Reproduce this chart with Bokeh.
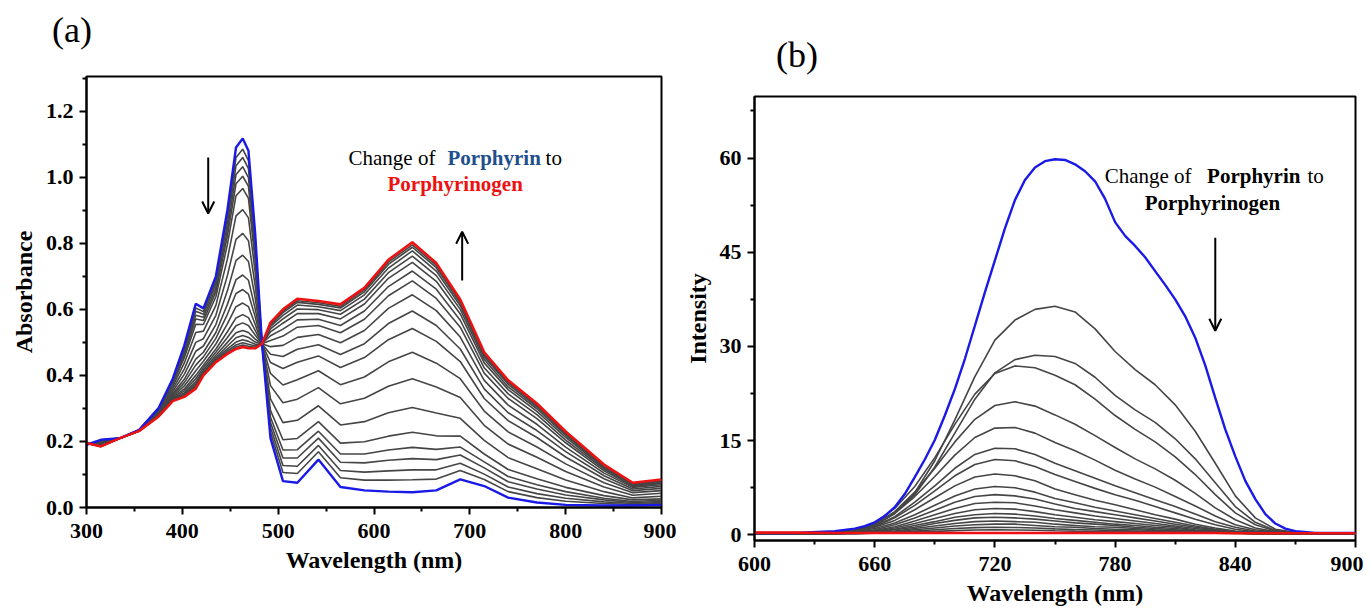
from bokeh.plotting import figure
from bokeh.models import Range1d, FixedTicker, PrintfTickFormatter, Label, Arrow, OpenHead, Div
from bokeh.layouts import row, column
from bokeh.embed import file_html
from bokeh.resources import INLINE

# ---------------- Panel (a): absorbance spectra ----------------
WL_A = [300, 315, 335, 355, 375, 390, 402, 414, 422, 435, 447, 456, 463, 469, 476, 483, 492,
        505, 520, 542, 565, 590, 615, 640, 665, 690, 715, 740, 770, 800, 840, 870, 900]
ABS_PORPHYRIN = [0.190, 0.205, 0.210, 0.235, 0.300, 0.390, 0.490, 0.617, 0.603, 0.700, 0.900, 1.090, 1.117, 1.080, 0.830, 0.500, 0.210,
                 0.080, 0.075, 0.145, 0.062, 0.052, 0.048, 0.046, 0.052, 0.085, 0.065, 0.030, 0.015, 0.008, 0.006, 0.006, 0.008]
ABS_PORPHYRINOGEN = [0.195, 0.185, 0.210, 0.232, 0.275, 0.322, 0.335, 0.360, 0.400, 0.440, 0.465, 0.480, 0.486, 0.482, 0.482, 0.495, 0.560,
                     0.600, 0.632, 0.625, 0.615, 0.665, 0.750, 0.803, 0.740, 0.630, 0.470, 0.385, 0.315, 0.230, 0.130, 0.075, 0.085]
ABS_T01 = [.190, .204, .210, .235, .299, .387, .482, .604, .593, .687, .878, 1.060, 1.085, 1.050, .813, .500, .228, .106, .103, .169, .090, .083, .083, .084, .086, .112, .085, .048, .030, .019, .012, .009, .012]
ABS_T02 = [.190, .203, .210, .235, .298, .384, .476, .594, .585, .677, .861, 1.035, 1.060, 1.026, .799, .500, .242, .127, .125, .188, .112, .107, .111, .114, .114, .134, .101, .062, .042, .028, .017, .012, .015]
ABS_T03 = [.191, .202, .210, .235, .297, .381, .469, .582, .576, .665, .841, 1.008, 1.032, .999, .783, .499, .257, .150, .150, .210, .137, .135, .143, .148, .145, .159, .120, .078, .056, .038, .023, .015, .018]
ABS_T04 = [.191, .201, .210, .234, .296, .378, .462, .571, .566, .653, .822, .980, 1.003, .972, .767, .499, .273, .174, .175, .231, .162, .162, .174, .182, .176, .183, .138, .094, .069, .048, .028, .018, .022]
ABS_T05 = [.191, .200, .210, .234, .294, .374, .453, .555, .554, .638, .796, .944, .966, .936, .746, .499, .294, .205, .209, .260, .195, .199, .216, .228, .217, .216, .162, .115, .087, .061, .036, .023, .026]
ABS_T06 = [.192, .198, .210, .234, .292, .367, .437, .530, .534, .612, .752, .883, .902, .877, .712, .498, .329, .257, .264, .308, .250, .260, .287, .303, .286, .270, .203, .151, .117, .083, .048, .029, .034]
ABS_T07 = [.192, .196, .210, .234, .289, .359, .419, .500, .511, .582, .702, .812, .830, .808, .672, .498, .369, .317, .328, .363, .314, .331, .367, .390, .365, .333, .249, .192, .152, .109, .062, .037, .043]
ABS_T08 = [.193, .194, .210, .233, .286, .352, .403, .473, .489, .554, .656, .748, .764, .745, .635, .497, .406, .371, .387, .414, .372, .395, .441, .470, .437, .390, .292, .229, .183, .132, .075, .045, .051]
ABS_T09 = [.193, .192, .210, .233, .284, .345, .388, .449, .470, .530, .615, .690, .704, .688, .602, .497, .439, .421, .440, .459, .424, .454, .508, .542, .503, .442, .330, .263, .212, .153, .087, .051, .058]
ABS_T10 = [.194, .191, .210, .233, .282, .341, .378, .431, .456, .512, .585, .648, .660, .646, .578, .496, .464, .457, .479, .493, .463, .496, .557, .595, .551, .480, .359, .287, .233, .169, .096, .056, .064]
ABS_T11 = [.194, .189, .210, .233, .280, .336, .368, .414, .443, .495, .556, .608, .619, .608, .555, .496, .487, .491, .515, .524, .499, .536, .603, .644, .596, .516, .385, .310, .252, .183, .104, .061, .069]
ABS_T12 = [.194, .188, .210, .232, .279, .333, .359, .400, .431, .480, .532, .574, .584, .575, .536, .496, .506, .519, .546, .551, .529, .570, .641, .686, .633, .546, .407, .330, .269, .196, .111, .064, .073]
ABS_T13 = [.194, .187, .210, .232, .278, .330, .353, .390, .423, .470, .515, .550, .559, .551, .522, .496, .520, .540, .568, .570, .551, .595, .669, .716, .661, .567, .423, .344, .281, .204, .116, .067, .076]
ABS_T14 = [.195, .187, .210, .232, .277, .327, .347, .381, .416, .461, .500, .529, .536, .530, .510, .495, .532, .558, .587, .587, .571, .616, .694, .742, .685, .586, .438, .357, .291, .212, .120, .069, .079]
ABS_T15 = [.195, .186, .210, .232, .276, .326, .344, .374, .411, .454, .489, .514, .521, .515, .501, .495, .541, .571, .601, .599, .585, .631, .711, .761, .702, .600, .448, .365, .299, .218, .123, .071, .081]
ABS_T16 = [.195, .186, .210, .232, .276, .324, .340, .369, .407, .449, .480, .501, .508, .503, .494, .495, .548, .582, .613, .608, .596, .644, .725, .777, .716, .611, .456, .373, .305, .222, .126, .073, .082]
ABS_T17 = [.195, .185, .210, .232, .276, .323, .338, .365, .404, .445, .474, .492, .499, .494, .489, .495, .553, .590, .621, .615, .604, .653, .736, .788, .726, .619, .462, .378, .309, .226, .128, .074, .083]
ABS_T18 = [.195, .185, .210, .232, .275, .323, .337, .362, .402, .443, .469, .486, .492, .488, .485, .495, .557, .595, .626, .620, .609, .659, .743, .795, .733, .625, .466, .382, .312, .228, .129, .074, .084]

XTICKS_A = [300, 400, 500, 600, 700, 800, 900]
XMINOR_A = [350, 450, 550, 650, 750, 850]
YTICKS_A = [0.0, 0.2, 0.4, 0.6, 0.8, 1.0, 1.2]
YMINOR_A = [0.1, 0.3, 0.5, 0.7, 0.9, 1.1, 1.3]

# ---------------- Panel (b): emission spectra ----------------
WL_B = [600, 620, 640, 650, 660, 670, 680, 690, 700, 710, 720, 730, 740, 750,
        760, 770, 780, 790, 800, 810, 820, 830, 840, 850, 860, 870, 880, 900]
WL_B_PORPHYRIN = [600, 620, 640, 650, 655, 660, 665, 670, 675, 680, 685, 690, 695, 700, 705, 710, 715,
                  720, 725, 730, 735, 740, 745, 750, 755, 760, 765, 770, 775, 780, 785, 790, 795, 800,
                  805, 810, 815, 820, 825, 830, 835, 840, 845, 850, 855, 860, 865, 870, 880, 900]
INT_PORPHYRIN = [0.3, 0.3, 0.6, 1.0, 1.4, 2.0, 3.0, 4.4, 6.5, 9.2, 12.0, 15.1, 19.0, 23.2, 28.0, 33.3, 38.6,
                 43.7, 48.8, 53.3, 56.5, 58.5, 59.5, 59.8, 59.7, 59.0, 57.9, 56.3, 53.5, 49.8, 47.6, 46.0, 44.2, 42.0,
                 39.8, 37.5, 34.8, 31.4, 27.0, 21.8, 16.8, 12.5, 8.6, 5.7, 3.3, 1.8, 1.0, 0.6, 0.3, 0.3]
INT_PORPHYRINOGEN = [0.35, 0.35, 0.3, 0.3, 0.3, 0.3, 0.3, 0.3, 0.3, 0.3, 0.3, 0.3, 0.3, 0.3,
                     0.3, 0.3, 0.3, 0.3, 0.3, 0.3, 0.3, 0.3, 0.25, 0.25, 0.25, 0.25, 0.25, 0.25]
INT_T01 = [0.2, 0.2, 0.3, 0.6, 1.5, 3.5, 6.7, 11.8, 18.3, 25.2, 31.0, 34.2, 35.9, 36.4, 35.5, 32.8, 29.2, 26.3, 23.9, 20.7, 16.5, 11.4, 6.2, 2.7, 0.9, 0.4, 0.2, 0.2]
INT_T02 = [0.2, 0.2, 0.3, 0.6, 1.5, 3.4, 6.4, 10.8, 16.2, 21.6, 25.8, 27.9, 28.6, 28.4, 27.3, 25.1, 22.2, 19.9, 17.9, 15.3, 12.1, 8.3, 4.5, 2.0, 0.7, 0.3, 0.2, 0.2]
INT_T03 = [0.2, 0.2, 0.4, 0.8, 1.9, 4.2, 7.7, 12.3, 17.6, 22.4, 25.7, 26.9, 26.6, 25.4, 23.9, 21.6, 19.0, 16.8, 14.8, 12.4, 9.6, 6.4, 3.5, 1.6, 0.6, 0.3, 0.2, 0.2]
INT_T04 = [0.2, 0.2, 0.4, 0.8, 1.7, 3.7, 6.8, 10.6, 14.8, 18.4, 20.6, 21.2, 20.5, 19.1, 17.6, 15.8, 13.9, 12.1, 10.5, 8.7, 6.6, 4.3, 2.4, 1.1, 0.5, 0.3, 0.2, 0.2]
INT_T05 = [0.2, 0.2, 0.3, 0.7, 1.6, 3.4, 6.1, 9.3, 12.7, 15.5, 17.0, 17.1, 16.2, 14.7, 13.4, 11.9, 10.3, 8.9, 7.6, 6.1, 4.6, 3.0, 1.6, 0.8, 0.4, 0.2, 0.2, 0.2]
INT_T06 = [0.2, 0.2, 0.3, 0.7, 1.4, 2.9, 5.2, 7.8, 10.6, 12.8, 13.8, 13.7, 12.8, 11.4, 10.2, 9.0, 7.8, 6.7, 5.6, 4.5, 3.3, 2.1, 1.2, 0.6, 0.3, 0.2, 0.2, 0.2]
INT_T07 = [0.2, 0.2, 0.3, 0.6, 1.3, 2.7, 4.7, 7.0, 9.4, 11.2, 12.0, 11.8, 10.9, 9.6, 8.5, 7.4, 6.4, 5.5, 4.5, 3.5, 2.5, 1.6, 0.9, 0.5, 0.3, 0.2, 0.2, 0.2]
INT_T08 = [0.2, 0.2, 0.3, 0.6, 1.2, 2.3, 4.0, 5.9, 7.8, 9.2, 9.7, 9.4, 8.6, 7.3, 6.4, 5.5, 4.8, 4.0, 3.2, 2.5, 1.7, 1.1, 0.6, 0.4, 0.3, 0.2, 0.2, 0.2]
INT_T09 = [0.2, 0.2, 0.3, 0.5, 1.0, 1.9, 3.2, 4.7, 6.2, 7.3, 7.7, 7.5, 6.8, 5.8, 5.1, 4.4, 3.8, 3.2, 2.6, 2.0, 1.4, 0.9, 0.5, 0.3, 0.2, 0.2, 0.2, 0.2]
INT_T10 = [0.2, 0.2, 0.3, 0.4, 0.8, 1.6, 2.7, 3.9, 5.2, 6.1, 6.4, 6.2, 5.7, 4.9, 4.2, 3.7, 3.2, 2.7, 2.2, 1.7, 1.2, 0.8, 0.5, 0.3, 0.2, 0.2, 0.2, 0.2]
INT_T11 = [0.2, 0.2, 0.3, 0.4, 0.7, 1.3, 2.2, 3.2, 4.2, 5.0, 5.2, 5.1, 4.6, 4.0, 3.5, 3.0, 2.6, 2.2, 1.8, 1.4, 1.0, 0.7, 0.4, 0.3, 0.2, 0.2, 0.2, 0.2]
INT_T12 = [0.2, 0.2, 0.2, 0.4, 0.6, 1.1, 1.8, 2.6, 3.4, 4.0, 4.2, 4.1, 3.7, 3.2, 2.8, 2.4, 2.1, 1.8, 1.5, 1.2, 0.8, 0.6, 0.4, 0.3, 0.2, 0.2, 0.2, 0.2]
INT_T13 = [0.2, 0.2, 0.2, 0.3, 0.5, 0.9, 1.5, 2.1, 2.8, 3.2, 3.4, 3.3, 3.0, 2.6, 2.3, 2.0, 1.7, 1.5, 1.2, 1.0, 0.7, 0.5, 0.3, 0.3, 0.2, 0.2, 0.2, 0.2]
INT_T14 = [0.2, 0.2, 0.2, 0.3, 0.5, 0.8, 1.2, 1.8, 2.3, 2.7, 2.8, 2.7, 2.5, 2.2, 1.9, 1.7, 1.5, 1.2, 1.0, 0.8, 0.6, 0.4, 0.3, 0.2, 0.2, 0.2, 0.2, 0.2]
INT_T15 = [0.2, 0.2, 0.2, 0.3, 0.4, 0.6, 1.0, 1.4, 1.8, 2.1, 2.2, 2.1, 2.0, 1.7, 1.5, 1.3, 1.2, 1.0, 0.8, 0.7, 0.5, 0.4, 0.3, 0.2, 0.2, 0.2, 0.2, 0.2]
INT_T16 = [0.2, 0.2, 0.2, 0.3, 0.4, 0.5, 0.8, 1.1, 1.4, 1.6, 1.7, 1.7, 1.5, 1.3, 1.2, 1.0, 0.9, 0.8, 0.7, 0.6, 0.4, 0.3, 0.3, 0.2, 0.2, 0.2, 0.2, 0.2]
INT_T17 = [0.2, 0.2, 0.2, 0.2, 0.3, 0.4, 0.6, 0.8, 1.0, 1.15, 1.2, 1.17, 1.08, 0.95, 0.85, 0.76, 0.68, 0.6, 0.52, 0.44, 0.36, 0.29, 0.25, 0.2, 0.2, 0.2, 0.2, 0.2]
INT_T18 = [0.2, 0.2, 0.2, 0.2, 0.26, 0.33, 0.44, 0.56, 0.68, 0.77, 0.8, 0.78, 0.73, 0.65, 0.59, 0.54, 0.49, 0.44, 0.39, 0.34, 0.3, 0.25, 0.23, 0.21, 0.2, 0.2, 0.2, 0.2]

XTICKS_B = [600, 660, 720, 780, 840, 900]
XMINOR_B = [630, 690, 750, 810, 870]
YTICKS_B = [0, 15, 30, 45, 60]
YMINOR_B = [7.5, 22.5, 37.5, 52.5, 67.5]

GRAYS_A = [ABS_T01, ABS_T02, ABS_T03, ABS_T04, ABS_T05, ABS_T06, ABS_T07, ABS_T08, ABS_T09,
           ABS_T10, ABS_T11, ABS_T12, ABS_T13, ABS_T14, ABS_T15, ABS_T16, ABS_T17, ABS_T18]
GRAYS_B = [INT_T01, INT_T02, INT_T03, INT_T04, INT_T05, INT_T06, INT_T07, INT_T08, INT_T09,
           INT_T10, INT_T11, INT_T12, INT_T13, INT_T14, INT_T15, INT_T16, INT_T17, INT_T18]

SERIF = "Liberation Serif"
BLUE = "#1a1ae6"
RED = "#ee1111"
GRAY = "#454545"


def style(p, xticks, xminor, yticks, yminor, yfmt):
    p.xaxis.ticker = FixedTicker(ticks=xticks, minor_ticks=xminor)
    p.yaxis.ticker = FixedTicker(ticks=yticks, minor_ticks=yminor)
    p.yaxis.formatter = PrintfTickFormatter(format=yfmt)
    p.xaxis.formatter = PrintfTickFormatter(format="%d")
    for ax in (p.xaxis[0], p.yaxis[0]):
        ax.axis_line_width = 2
        ax.axis_line_color = "black"
        ax.major_tick_line_width = 2
        ax.minor_tick_line_width = 2
        ax.major_tick_line_color = "black"
        ax.minor_tick_line_color = "black"
        ax.major_tick_out = 7
        ax.major_tick_in = 0
        ax.minor_tick_out = 4
        ax.minor_tick_in = 0
        ax.major_label_text_font = SERIF
        ax.major_label_text_font_style = "bold"
        ax.major_label_text_font_size = "22px"
        ax.major_label_text_color = "black"
        ax.axis_label_text_font = SERIF
        ax.axis_label_text_font_style = "bold"
        ax.axis_label_text_font_size = "24px"
        ax.axis_label_text_color = "black"
        ax.axis_label_standoff = 6
    p.xaxis.major_label_standoff = 9
    p.yaxis.major_label_standoff = 6
    p.xgrid.visible = False
    p.ygrid.visible = False
    p.outline_line_color = "black"
    p.outline_line_width = 2
    p.outline_line_alpha = 1.0
    p.background_fill_color = "white"
    p.border_fill_color = "white"


def add_label(p, x, y, text, color="black", bold=False, size="21px"):
    p.add_layout(Label(x=x, y=y, text=text, text_font=SERIF, text_font_size=size,
                       text_font_style="bold" if bold else "normal", text_color=color,
                       text_align="left", text_baseline="middle"))


def panel_tag(text, width, height, left, top):
    html = ('<div style="font-family:\'Liberation Serif\',serif;font-size:36px;line-height:36px;'
            'color:black;padding-left:%dpx;padding-top:%dpx;">%s</div>' % (left, top, text))
    return Div(text=html, width=width, height=height, margin=(0, 0, 0, 0))


# ---------- figure (a) ----------
pa = figure(frame_width=575, frame_height=431, x_range=Range1d(300, 900), y_range=Range1d(0, 1.305),
            min_border_left=86, min_border_right=15, min_border_top=4, min_border_bottom=93,
            output_backend="svg", toolbar_location=None)
style(pa, XTICKS_A, XMINOR_A, YTICKS_A, YMINOR_A, "%.1f")
pa.xaxis.axis_label = "Wavelength (nm)"
pa.yaxis.axis_label = "Absorbance"
for ys in GRAYS_A:
    pa.line(WL_A, ys, line_color=GRAY, line_width=1.6)
pa.line(WL_A, ABS_PORPHYRIN, line_color=BLUE, line_width=2.4)
pa.line(WL_A, ABS_PORPHYRINOGEN, line_color=RED, line_width=2.6)
add_label(pa, 573.4, 1.057, "Change of")
add_label(pa, 676.7, 1.057, "Porphyrin", color="#1f4e8c", bold=True)
add_label(pa, 779.0, 1.057, "to")
add_label(pa, 614.1, 0.981, "Porphyrinogen", color="#ee1111", bold=True)
pa.add_layout(Arrow(end=OpenHead(size=12, line_width=2, line_color="black"),
                    x_start=427, y_start=1.06, x_end=427, y_end=0.89, line_width=2, line_color="black"))
pa.add_layout(Arrow(end=OpenHead(size=12, line_width=2, line_color="black"),
                    x_start=692, y_start=0.687, x_end=692, y_end=0.835, line_width=2, line_color="black"))

# ---------- figure (b) ----------
pb = figure(frame_width=601, frame_height=444, x_range=Range1d(600, 900), y_range=Range1d(-0.9, 69.8),
            min_border_left=78, min_border_right=8, min_border_top=4, min_border_bottom=60,
            output_backend="svg", toolbar_location=None)
style(pb, XTICKS_B, XMINOR_B, YTICKS_B, YMINOR_B, "%d")
pb.xaxis.axis_label = "Wavelength (nm)"
pb.yaxis.axis_label = "Intensity"
for ys in GRAYS_B:
    pb.line(WL_B, ys, line_color=GRAY, line_width=1.6)
pb.line(WL_B_PORPHYRIN, INT_PORPHYRIN, line_color=BLUE, line_width=2.4)
pb.line(WL_B, INT_PORPHYRINOGEN, line_color=RED, line_width=2.6)
add_label(pb, 774.8, 57.2, "Change of")
add_label(pb, 825.9, 57.2, "Porphyrin", bold=True)
add_label(pb, 876.0, 57.2, "to")
add_label(pb, 794.8, 52.9, "Porphyrinogen", bold=True)
pb.add_layout(Arrow(end=OpenHead(size=12, line_width=2, line_color="black"),
                    x_start=830, y_start=47.3, x_end=830, y_end=32.5, line_width=2, line_color="black"))

col_a = column(panel_tag("(a)", 676, 72, 52, 12), pa, spacing=0)
col_b = column(panel_tag("(b)", 687, 92, 100, 37), pb, spacing=0)
layout = row(col_a, col_b, spacing=0)
open("out.html", "w").write(file_html(layout, INLINE))
